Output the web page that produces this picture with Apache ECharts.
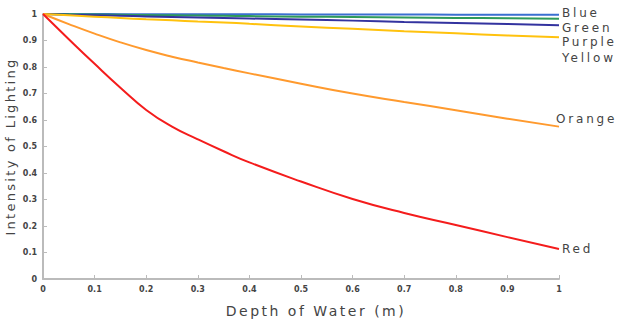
<!DOCTYPE html>
<html><head><meta charset="utf-8">
<script src="https://cdn.jsdelivr.net/npm/echarts@6/dist/echarts.min.js"></script>
<style>html,body{margin:0;padding:0;background:#fff}#c{width:640px;height:336px}
#c text[style*="12px"]{letter-spacing:2.8px}
#c text[style*="13px"]{letter-spacing:2.3px}
#c text[style*="14px"]{letter-spacing:2.5px}</style>
</head><body><div id="c"></div>
<script>
const depths = [0, 0.05, 0.1, 0.15, 0.2, 0.25, 0.3, 0.35, 0.4, 0.5, 0.6, 0.7, 0.8, 0.9, 1.0];
const blue   = [1, 0.9998, 0.9997, 0.9995, 0.9994, 0.9993, 0.9991, 0.999, 0.9988, 0.9985, 0.9982, 0.9979, 0.9976, 0.9973, 0.997];
const green  = [1, 0.999, 0.998, 0.997, 0.996, 0.995, 0.994, 0.993, 0.992, 0.990, 0.989, 0.987, 0.985, 0.984, 0.982];
const purple = [1, 0.997, 0.995, 0.993, 0.991, 0.989, 0.987, 0.985, 0.983, 0.979, 0.975, 0.970, 0.966, 0.962, 0.958];
const yellow = [1, 0.995, 0.990, 0.985, 0.980, 0.976, 0.972, 0.968, 0.963, 0.953, 0.944, 0.935, 0.927, 0.919, 0.912];
const orange = [1, 0.962, 0.926, 0.893, 0.864, 0.839, 0.817, 0.796, 0.776, 0.737, 0.70, 0.668, 0.637, 0.605, 0.575];
const red    = [1, 0.905, 0.812, 0.722, 0.638, 0.575, 0.527, 0.482, 0.44, 0.368, 0.302, 0.249, 0.204, 0.158, 0.113];
const names  = ['Blue','Green','Purple','Yellow','Orange','Red'];
const colors = ['#3a6fd0','#2e9a5a','#33339f','#ffc20e','#ff9a2e','#f41c1c'];
const labelOffsets = [[3,-2],[3,9],[3,17],[3,21],[-3,-8],[3,0]];
const values = [blue, green, purple, yellow, orange, red];

const chart = echarts.init(document.getElementById('c'), null, {renderer:'svg'});
chart.setOption({
  animation:false,
  grid:{left:43, right:81, top:14, bottom:57, containLabel:false, outerBoundsMode:'none'},
  xAxis:{type:'value', min:0, max:1, interval:0.1,
    name:'Depth of Water (m)', nameLocation:'middle', nameGap:25, nameMoveOverlap:false,
    nameTextStyle:{fontFamily:'DejaVu Sans', fontSize:14, color:'#444', padding:[0,0,0,30]},
    axisLine:{lineStyle:{color:'#bbb', width:2}},
    axisTick:{inside:true, length:4, lineStyle:{color:'#bbb'}},
    axisLabel:{fontFamily:'DejaVu Sans', fontSize:8, fontWeight:'bold', color:'#444', margin:6,
      formatter:v=>String(Math.round(v*10)/10)},
    splitLine:{show:false}},
  yAxis:{type:'value', min:0, max:1, interval:0.1,
    name:'Intensity of Lighting', nameLocation:'middle', nameGap:26, nameMoveOverlap:false,
    nameTextStyle:{fontFamily:'DejaVu Sans', fontSize:13, color:'#444'},
    axisLine:{show:true, lineStyle:{color:'#bbb', width:2}},
    axisTick:{show:true, inside:true, length:4, lineStyle:{color:'#bbb'}},
    axisLabel:{fontFamily:'DejaVu Sans', fontSize:8, fontWeight:'bold', color:'#444', margin:6,
      formatter:v=>String(Math.round(v*10)/10)},
    splitLine:{show:false}},
  series: names.map((n,i)=>({
    name:n, type:'line', smooth:0.5, symbol:'none',
    data: depths.map((d,j)=>[d, values[i][j]]),
    lineStyle:{color:colors[i], width:2},
    endLabel:{show:true, formatter:n, fontFamily:'DejaVu Sans', fontSize:12, lineHeight:12, color:'#444',
      offset:labelOffsets[i], distance:0}
  }))
});
</script></body></html>
